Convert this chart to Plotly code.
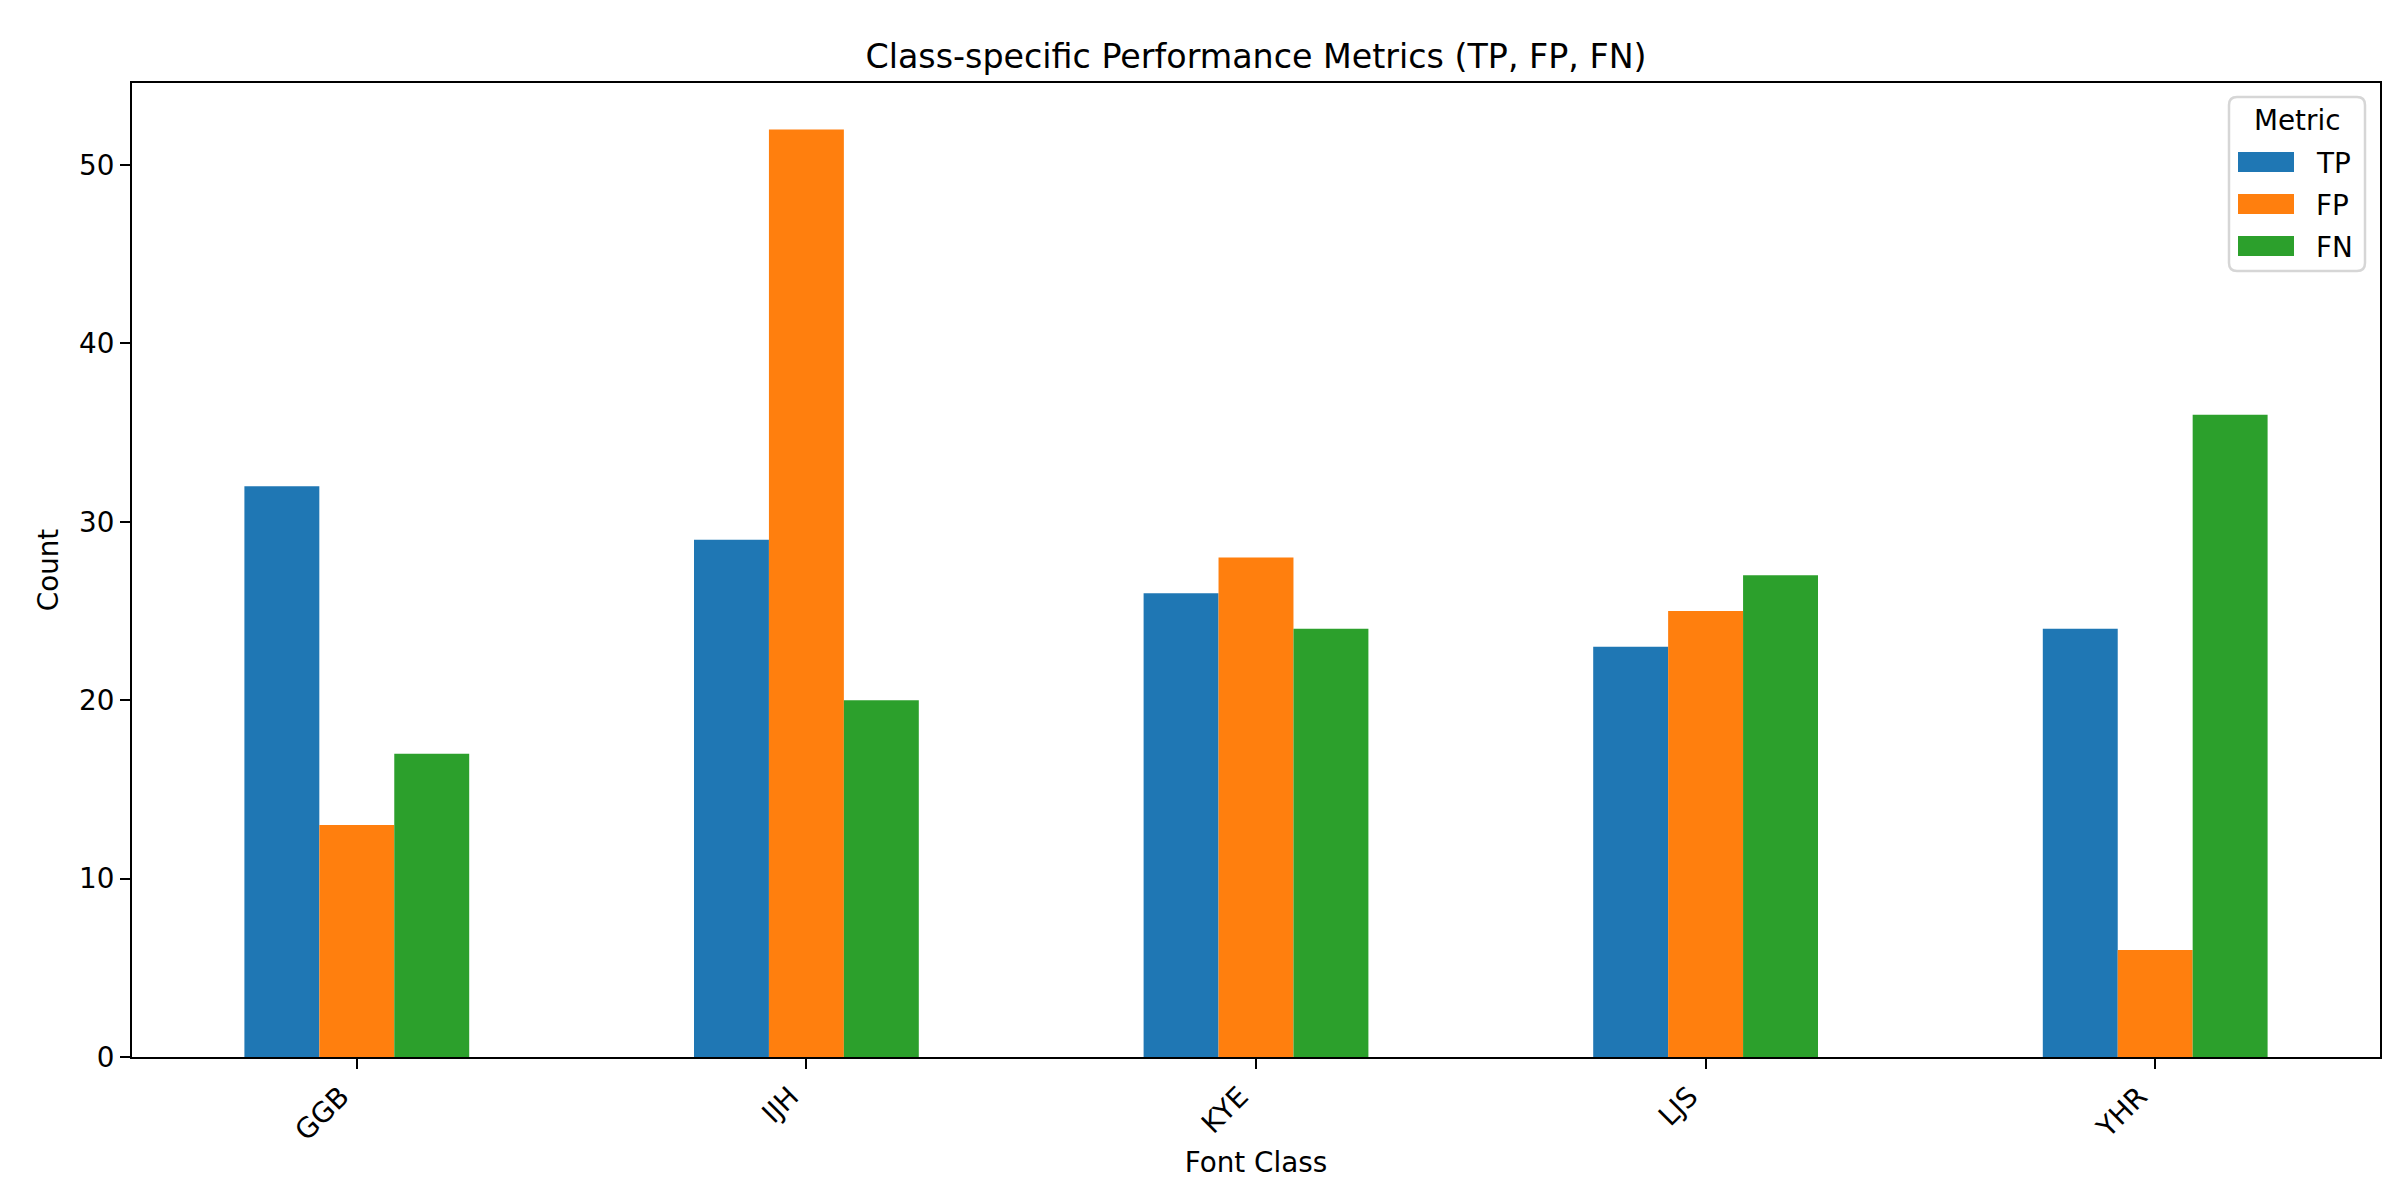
import plotly.graph_objects as go

categories = ["GGB", "IJH", "KYE", "LJS", "YHR"]
tp_values = [32, 29, 26, 23, 24]
fp_values = [13, 52, 28, 25, 6]
fn_values = [17, 20, 24, 27, 36]
series_names = ["TP", "FP", "FN"]
series_colors = ["#1f77b4", "#ff7f0e", "#2ca02c"]
y_ticks = [0, 10, 20, 30, 40, 50]
legend_title = "Metric"

W, H = 2400, 1200
L, R, T, B = 124, 2372, 75, 1049

def px_x(px):
    return (px - L) / (R - L)

def px_y(py):
    return (B - py) / (B - T)

fig = go.Figure()
for name, vals, col in zip(series_names, [tp_values, fp_values, fn_values], series_colors):
    fig.add_trace(go.Bar(x=categories, y=vals, name=name, marker=dict(color=col, line=dict(width=0)),
                         showlegend=False))

ymax = max(max(tp_values), max(fp_values), max(fn_values)) * 1.05
font_main = "DejaVu Sans"
fs = 27.8

# custom legend (matplotlib-like)
shapes = []
annotations = []
bx0, bx1, by0, by1, rad = 2221, 2357, 89, 263, 8
x0, x1 = px_x(bx0), px_x(bx1)
y0, y1 = px_y(by0), px_y(by1)  # y0 top, y1 bottom
rx = rad / (R - L)
ry = rad / (B - T)
path = (f"M{x0+rx},{y0} L{x1-rx},{y0} Q{x1},{y0} {x1},{y0-ry} "
        f"L{x1},{y1+ry} Q{x1},{y1} {x1-rx},{y1} "
        f"L{x0+rx},{y1} Q{x0},{y1} {x0},{y1+ry} "
        f"L{x0},{y0-ry} Q{x0},{y0} {x0+rx},{y0} Z")
shapes.append(dict(type="path", xref="paper", yref="paper", path=path,
                   fillcolor="rgba(255,255,255,0.8)", line=dict(color="#d6d6d6", width=2.5), layer="above"))
annotations.append(dict(text=legend_title, xref="paper", yref="paper", x=px_x(2289), y=px_y(113),
                        xanchor="center", yanchor="middle", showarrow=False,
                        font=dict(size=fs, family=font_main, color="black")))
row_centers = [154, 196, 238]
for name, col, cy in zip(series_names, series_colors, row_centers):
    shapes.append(dict(type="rect", xref="paper", yref="paper",
                       x0=px_x(2230), x1=px_x(2286), y0=px_y(cy - 10), y1=px_y(cy + 10),
                       fillcolor=col, line=dict(width=0), layer="above"))
    annotations.append(dict(text=name, xref="paper", yref="paper", x=px_x(2306), y=px_y(cy + 1),
                            xanchor="left", yanchor="middle", showarrow=False,
                            font=dict(size=fs, family=font_main, color="black")))

fig.update_layout(
    width=W, height=H,
    margin=dict(l=L, r=W - R, t=T, b=H - B, pad=0),
    paper_bgcolor="white", plot_bgcolor="white",
    font=dict(family=font_main, size=fs, color="black"),
    barmode="group", bargap=0.5, bargroupgap=0,
    title=dict(text="Class-specific Performance Metrics (TP, FP, FN)", x=(L + R) / 2 / W, xanchor="center",
               xref="container", yref="container", y=1 - 48 / H, yanchor="middle",
               font=dict(size=33.3, family=font_main, color="black")),
    showlegend=False,
    shapes=shapes,
    annotations=annotations,
)
fig.update_xaxes(
    range=[-0.5, len(categories) - 0.5], showline=True, linecolor="black", linewidth=2.2, mirror=True,
    ticks="outside", ticklen=10, tickwidth=2.2, tickcolor="black", tickangle=-45,
    ticklabelshift=-16,
    showgrid=False, zeroline=False,
    title=dict(text="Font Class", font=dict(size=fs), standoff=6),
)
fig.update_yaxes(
    range=[0, ymax], showline=True, linecolor="black", linewidth=2.2, mirror=True,
    ticks="outside", ticklen=10, tickwidth=2.2, tickcolor="black",
    tickvals=y_ticks, ticktext=[str(v) for v in y_ticks],
    showgrid=False, zeroline=False,
    title=dict(text="Count", font=dict(size=fs), standoff=12),
)
fig.write_html("out.html")
